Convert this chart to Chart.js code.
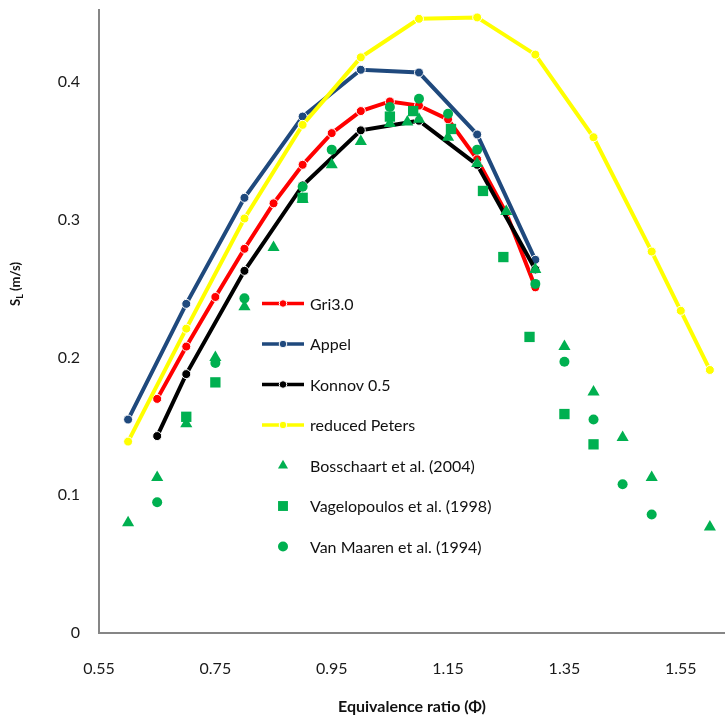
<!DOCTYPE html>
<html>
<head>
<meta charset="utf-8">
<title>Laminar burning velocity vs equivalence ratio</title>
<script src="https://cdn.jsdelivr.net/npm/chart.js@4.4.1/dist/chart.umd.min.js"></script>
<style>
  html, body { margin: 0; padding: 0; background: #fff; }
  #wrap { position: relative; width: 725px; height: 716px; }
</style>
</head>
<body>
<div id="wrap"><canvas id="flameChart"></canvas></div>
<script>
// ─── DATA ───
const phiGri = [0.65, 0.70, 0.75, 0.80, 0.85, 0.90, 0.95, 1.00, 1.05, 1.10, 1.15, 1.20, 1.25, 1.30];
const slGri  = [0.170, 0.208, 0.244, 0.279, 0.312, 0.340, 0.363, 0.379, 0.386, 0.383, 0.373, 0.344, 0.305, 0.251];

const phiAppel = [0.60, 0.70, 0.80, 0.90, 1.00, 1.10, 1.20, 1.30];
const slAppel  = [0.155, 0.239, 0.316, 0.375, 0.409, 0.407, 0.362, 0.271];

const phiKonnov = [0.65, 0.70, 0.80, 0.90, 1.00, 1.10, 1.20, 1.30];
const slKonnov  = [0.143, 0.188, 0.263, 0.325, 0.365, 0.372, 0.340, 0.264];

const phiPeters = [0.60, 0.70, 0.80, 0.90, 1.00, 1.10, 1.20, 1.30, 1.40, 1.50, 1.55, 1.60];
const slPeters  = [0.139, 0.221, 0.301, 0.369, 0.418, 0.446, 0.447, 0.420, 0.360, 0.277, 0.234, 0.191];

const phiBoss = [0.60, 0.65, 0.70, 0.75, 0.80, 0.85, 0.90, 0.95, 1.00, 1.05, 1.08, 1.10, 1.15, 1.20, 1.25, 1.30, 1.35, 1.40, 1.45, 1.50, 1.60];
const slBoss  = [0.080, 0.113, 0.152, 0.200, 0.237, 0.280, 0.315, 0.340, 0.357, 0.370, 0.371, 0.373, 0.360, 0.341, 0.306, 0.264, 0.208, 0.175, 0.142, 0.113, 0.077];

const phiVagel = [0.70, 0.75, 0.90, 1.05, 1.09, 1.155, 1.21, 1.245, 1.29, 1.35, 1.40];
const slVagel  = [0.157, 0.182, 0.316, 0.375, 0.379, 0.366, 0.321, 0.273, 0.215, 0.159, 0.137];

const phiMaaren = [0.65, 0.75, 0.80, 0.90, 0.95, 1.05, 1.10, 1.15, 1.20, 1.30, 1.35, 1.40, 1.45, 1.50];
const slMaaren  = [0.095, 0.196, 0.243, 0.324, 0.351, 0.382, 0.388, 0.377, 0.351, 0.2535, 0.197, 0.155, 0.108, 0.086];

const xTicks = [0.55, 0.75, 0.95, 1.15, 1.35, 1.55];
const yTicks = [0, 0.1, 0.2, 0.3, 0.4];

const GREEN = '#00B050';
const FONT = "Lato, 'Open Sans', sans-serif";

const pts = (xs, ys) => xs.map((x, i) => ({ x, y: ys[i] }));

function modelSeries(label, xs, ys, color, order) {
    return {
        label, data: pts(xs, ys), showLine: true, order,
        borderColor: color, backgroundColor: color, borderWidth: 4,
        pointStyle: 'circle', pointRadius: 4.5, pointHoverRadius: 4.5,
        pointBackgroundColor: color, pointBorderColor: '#fff', pointBorderWidth: 1,
        legendRadius: 3.8
    };
}

function expSeries(label, xs, ys, style, radius, legendRadius, order) {
    return {
        label, data: pts(xs, ys), showLine: false, order,
        pointStyle: style, pointRadius: radius, pointHoverRadius: radius,
        backgroundColor: GREEN, borderColor: GREEN, pointBorderWidth: 0,
        legendRadius
    };
}

// ─── LEGEND INSIDE PLOT + Y TITLE WITH SUBSCRIPT ───
function markerPath(ctx, style, x, y, r) {
    ctx.beginPath();
    if (style === 'triangle') {
        ctx.moveTo(x, y - r);
        ctx.lineTo(x + r * 0.866, y + r / 2);
        ctx.lineTo(x - r * 0.866, y + r / 2);
        ctx.closePath();
    } else if (style === 'rect') {
        const s = r * Math.SQRT1_2;
        ctx.rect(x - s, y - s, 2 * s, 2 * s);
    } else {
        ctx.arc(x, y, r, 0, Math.PI * 2);
    }
}

const decorations = {
    id: 'decorations',
    afterDraw(chart) {
        const ctx = chart.ctx;
        ctx.save();

        // legend
        chart.data.datasets.forEach((ds, i) => {
            const y = 303.5 + i * 40.5;
            if (ds.showLine) {
                ctx.strokeStyle = ds.borderColor;
                ctx.lineWidth = 3.5;
                ctx.beginPath(); ctx.moveTo(262, y); ctx.lineTo(304, y); ctx.stroke();
            }
            markerPath(ctx, ds.pointStyle, 283, y, ds.legendRadius);
            ctx.fillStyle = ds.backgroundColor;
            ctx.fill();
            if (ds.showLine) {
                ctx.strokeStyle = '#fff'; ctx.lineWidth = 1; ctx.stroke();
            }
            ctx.fillStyle = '#111';
            ctx.font = '16px ' + FONT;
            ctx.textBaseline = 'middle';
            ctx.textAlign = 'left';
            ctx.fillText(ds.label, 310, y + 1);
        });

        // y axis title: S_L (m/s)
        ctx.translate(16, 284);
        ctx.rotate(-Math.PI / 2);
        ctx.fillStyle = '#111';
        ctx.textBaseline = 'middle';
        ctx.textAlign = 'left';
        const big = 'bold 13px ' + FONT, small = 'bold 9px ' + FONT;
        ctx.font = big; const wS = ctx.measureText('S').width;
        const wRest = ctx.measureText(' (m/s)').width;
        ctx.font = small; const wL = ctx.measureText('L').width;
        let x = -(wS + wL + wRest) / 2;
        ctx.font = big; ctx.fillText('S', x, 0); x += wS;
        ctx.font = small; ctx.fillText('L', x, 4); x += wL;
        ctx.font = big; ctx.fillText(' (m/s)', x, 0);

        ctx.restore();
    }
};

Chart.defaults.font.family = FONT;
Chart.defaults.color = '#1a1a1a';

new Chart(document.getElementById('flameChart'), {
    type: 'scatter',
    data: {
        datasets: [
            modelSeries('Gri3.0', phiGri, slGri, '#FF0000', 7),
            modelSeries('Appel', phiAppel, slAppel, '#1F497D', 6),
            modelSeries('Konnov 0.5', phiKonnov, slKonnov, '#000000', 5),
            modelSeries('reduced Peters', phiPeters, slPeters, '#FFFF00', 4),
            expSeries('Bosschaart et al. (2004)', phiBoss, slBoss, 'triangle', 7, 5.8, 3),
            expSeries('Vagelopoulos et al. (1998)', phiVagel, slVagel, 'rect', 7.3, 7, 2),
            expSeries('Van Maaren et al. (1994)', phiMaaren, slMaaren, 'circle', 5, 5, 1)
        ]
    },
    options: {
        responsive: true, maintainAspectRatio: false, animation: false,
        events: [],
        layout: { autoPadding: false, padding: { top: 10, right: 0, bottom: 0, left: 0 } },
        plugins: { legend: { display: false }, tooltip: { enabled: false } },
        elements: { line: { tension: 0 } },
        clip: false,
        scales: {
            x: {
                type: 'linear', min: 0.55, max: 1.626,
                grid: { display: false, drawTicks: false },
                border: { color: '#868686', width: 2 },
                afterBuildTicks: s => { s.ticks = xTicks.map(v => ({ value: v })); },
                ticks: { padding: 26, font: { size: 16 }, maxRotation: 0, autoSkip: false,
                         callback: v => v.toFixed(2) },
                title: { display: true, text: 'Equivalence ratio (Φ)', color: '#111',
                         font: { size: 16, weight: 'bold' }, padding: { top: 0, bottom: 0 } },
                afterFit: s => { s.height = 83; s.paddingLeft = 0; s.paddingRight = 0; }
            },
            y: {
                type: 'linear', min: 0, max: 0.4524,
                grid: { display: false, drawTicks: false },
                border: { color: '#868686', width: 2 },
                afterBuildTicks: s => { s.ticks = yTicks.map(v => ({ value: v })); },
                ticks: { padding: 19, font: { size: 16 }, callback: v => String(+v.toFixed(1)) },
                afterFit: s => { s.width = 99; s.paddingTop = 0; s.paddingBottom = 0; }
            }
        }
    },
    plugins: [decorations]
});
</script>
</body>
</html>
